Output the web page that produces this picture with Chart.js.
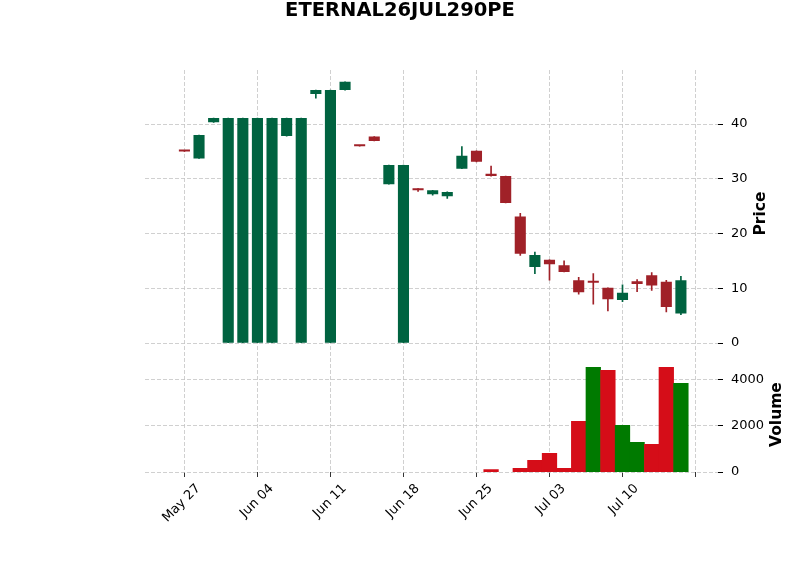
<!DOCTYPE html>
<html>
<head>
<meta charset="utf-8">
<script src="https://cdn.jsdelivr.net/npm/chart.js@4/dist/chart.umd.min.js"></script>
<style>
  html, body { margin: 0; padding: 0; background: #ffffff; }
</style>
</head>
<body>
<canvas id="candleChart" width="800" height="575"></canvas>
<script>
// Chart data
var title = "ETERNAL26JUL290PE";
var dates = ["May 27", "May 28", "May 29", "May 30", "Jun 03", "Jun 04", "Jun 05", "Jun 06",
             "Jun 09", "Jun 10", "Jun 11", "Jun 12", "Jun 13", "Jun 16", "Jun 17", "Jun 18",
             "Jun 19", "Jun 20", "Jun 23", "Jun 24", "Jun 25", "Jun 26", "Jun 27", "Jun 30",
             "Jul 01", "Jul 03", "Jul 04", "Jul 07", "Jul 08", "Jul 09", "Jul 10", "Jul 11",
             "Jul 14", "Jul 15", "Jul 16"];
var opens  = [35.1, 33.7, 40.3, 0, 0, 0, 0, 37.8, 0, 45.5, 0, 46.2, 36.05, 37.7, 29.0, 0,
              28.2, 27.2, 26.8, 31.85, 35.1, 30.9, 30.5, 23.1, 13.9, 15.2, 14.2, 11.5, 11.3, 10.1,
              7.85, 11.3, 12.4, 11.2, 5.4];
var highs  = [35.1, 38.0, 41.1, 41.1, 41.1, 41.1, 41.1, 41.1, 41.1, 46.2, 46.2, 47.7, 36.05, 37.7, 32.5, 32.5,
              28.2, 27.9, 27.6, 35.9, 35.1, 32.3, 30.5, 23.7, 16.6, 15.2, 15.0, 12.0, 12.7, 10.1,
              10.65, 11.6, 12.9, 11.45, 12.2];
var lows   = [35.0, 33.7, 40.3, 0, 0, 0, 0, 37.8, 0, 44.7, 0, 46.2, 35.95, 36.9, 29.0, 0,
              27.7, 27.0, 26.4, 31.85, 33.1, 30.5, 25.6, 16.0, 12.7, 11.5, 13.0, 8.95, 7.1, 5.9,
              7.55, 9.4, 9.6, 5.7, 5.2];
var closes = [35.0, 38.0, 41.1, 41.1, 41.1, 41.1, 41.1, 41.1, 41.1, 46.2, 46.2, 47.7, 35.95, 36.9, 32.5, 32.5,
              27.9, 27.9, 27.6, 34.2, 33.1, 30.5, 25.6, 16.3, 16.1, 14.4, 13.0, 9.3, 11.0, 8.0,
              9.2, 10.8, 10.5, 6.6, 11.5];
var volumes = [0, 0, 0, 0, 0, 0, 0, 0, 0, 0, 0, 0, 0, 0, 0, 0, 0, 0, 0, 0, 0,
               100, 0, 160, 500, 810, 160, 2190, 4530, 4400, 2020, 1280, 1200, 4530, 3840];
var priceTicks = [0, 10, 20, 30, 40];
var volumeTicks = [0, 2000, 4000];
var xTicks = [0, 5, 10, 15, 20, 25, 30, 35];

window.onload = function () {
    var upColor = "#006340", downColor = "#a02128";
    var volUp = "#007a00", volDown = "#d50d18";
    var gridColor = "#c4c4c4";
    var tickFont = { family: "'DejaVu Sans'", size: 13 };

    var candleColors = opens.map(function (o, i) {
        return closes[i] >= o ? upColor : downColor;
    });
    // volume colour follows close vs previous close
    var volumeColors = closes.map(function (c, i) {
        return (i > 0 && c < closes[i - 1]) ? volDown : volUp;
    });

    // Title over the whole figure plus the rotated "Price" / "Volume" labels
    var figureText = {
        id: "figureText",
        afterDraw: function (chart) {
            var ctx = chart.ctx;
            ctx.save();
            ctx.font = "bold 19.5px 'DejaVu Sans'";
            ctx.fillStyle = "#000000";
            ctx.textAlign = "center";
            ctx.textBaseline = "middle";
            ctx.fillText(title, chart.width / 2, 11);
            ctx.restore();

            [["y", "Price"], ["yv", "Volume"]].forEach(function (item) {
                var scale = chart.scales[item[0]];
                ctx.save();
                ctx.font = "13px 'DejaVu Sans'";
                var w = 0;
                scale.ticks.forEach(function (t) {
                    w = Math.max(w, ctx.measureText(String(t.label)).width);
                });
                var x = scale.left + 13 + w + 13;
                var y = (scale.top + scale.bottom) / 2;
                ctx.translate(x, y);
                ctx.rotate(-Math.PI / 2);
                ctx.font = "bold 15.5px 'DejaVu Sans'";
                ctx.fillStyle = "#000000";
                ctx.textAlign = "center";
                ctx.textBaseline = "middle";
                ctx.fillText(item[1], 0, 0);
                ctx.restore();
            });
        }
    };

    var yGrid = {
        color: gridColor, lineWidth: 0.8, tickColor: "#000000", tickLength: 5, tickWidth: 1
    };

    var ctx = document.getElementById("candleChart").getContext("2d");
    var chart = new Chart(ctx, {
        type: "bar",
        data: {
            datasets: [{
                // candle bodies
                data: dates.map(function (d, i) { return { x: i, y: [opens[i], closes[i]] }; }),
                backgroundColor: candleColors,
                yAxisID: "y",
                grouped: false,
                barPercentage: 0.76,
                categoryPercentage: 1,
                minBarLength: 2,
                order: 0
            }, {
                // wicks
                data: dates.map(function (d, i) { return { x: i, y: [lows[i], highs[i]] }; }),
                backgroundColor: candleColors,
                yAxisID: "y",
                grouped: false,
                barThickness: 1,
                order: 1
            }, {
                // volume, empty days are skipped
                data: dates.map(function (d, i) { return { x: i, y: volumes[i] > 0 ? volumes[i] : null }; }),
                backgroundColor: volumeColors,
                yAxisID: "yv",
                grouped: false,
                barPercentage: 1,
                categoryPercentage: 1,
                order: 2
            }]
        },
        options: {
            responsive: false,
            animation: false,
            layout: { padding: { left: 145, right: 0, top: 70, bottom: 0 } },
            plugins: {
                legend: { display: false },
                tooltip: { enabled: false },
                title: { display: false }
            },
            scales: {
                x: {
                    type: "linear",
                    min: -2.7,
                    max: 36.54,
                    offset: false,
                    grid: { offset: false, color: gridColor, lineWidth: 0.8, tickColor: "#000000", tickLength: 5 },
                    border: { display: false, dash: [4, 2] },
                    afterBuildTicks: function (scale) {
                        scale.ticks = xTicks.map(function (v) { return { value: v }; });
                    },
                    afterFit: function (scale) { scale.height = 103; },
                    ticks: {
                        color: "#000000",
                        font: tickFont,
                        minRotation: 45,
                        maxRotation: 45,
                        labelOffset: 14,
                        padding: 4,
                        callback: function (v) { return dates[v] || ""; }
                    }
                },
                y: {
                    type: "linear",
                    position: "right",
                    stack: "panels",
                    stackWeight: 5,
                    min: -2.56,
                    max: 49.86,
                    grid: yGrid,
                    border: { display: false, dash: [4, 2] },
                    afterBuildTicks: function (scale) {
                        scale.ticks = priceTicks.map(function (v) { return { value: v }; });
                    },
                    afterFit: function (scale) { scale.width = 82; },
                    ticks: { color: "#000000", font: tickFont, padding: 8, callback: function (v) { return String(v); } }
                },
                yv: {
                    type: "linear",
                    position: "right",
                    stack: "panels",
                    stackWeight: 2,
                    min: 0,
                    max: 4970,
                    grid: yGrid,
                    border: { display: false, dash: [4, 2] },
                    afterBuildTicks: function (scale) {
                        scale.ticks = volumeTicks.map(function (v) { return { value: v }; });
                    },
                    afterFit: function (scale) { scale.width = 82; },
                    ticks: { color: "#000000", font: tickFont, padding: 8, callback: function (v) { return String(v); } }
                }
            }
        },
        plugins: [figureText]
    });
};
</script>
</body>
</html>
